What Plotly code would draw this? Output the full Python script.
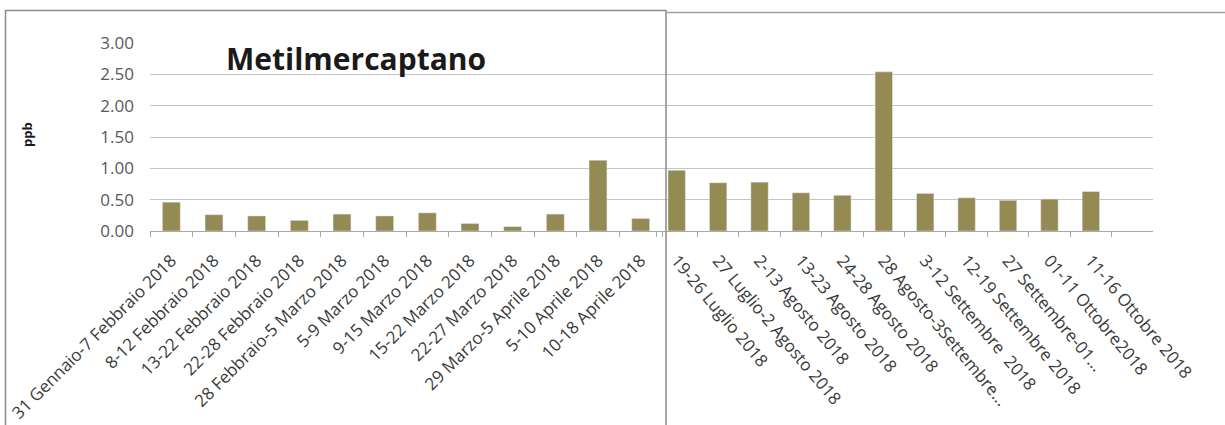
import plotly.graph_objects as go

W, H = 1225, 425

left_labels = [
    "31 Gennaio-7 Febbraio 2018", "8-12 Febbraio 2018", "13-22 Febbraio 2018",
    "22-28 Febbraio 2018", "28 Febbraio-5 Marzo 2018", "5-9 Marzo 2018",
    "9-15 Marzo 2018", "15-22 Marzo 2018", "22-27 Marzo 2018",
    "29 Marzo-5 Aprile 2018", "5-10 Aprile 2018", "10-18 Aprile 2018",
]
left_values = [0.46, 0.26, 0.24, 0.17, 0.27, 0.24, 0.29, 0.12, 0.07, 0.27, 1.13, 0.20]

right_labels = [
    "19-26 Luglio 2018", "27 Luglio-2 Agosto 2018", "2-13 Agosto 2018",
    "13-23 Agosto 2018", "24-28 Agosto 2018", "28 Agosto-3Settembre...",
    "3-12 Settembre  2018", "12-19 Settembre 2018", "27 Settembre-01...",
    "01-11 Ottobre2018", "11-16 Ottobre 2018",
]
right_values = [0.97, 0.77, 0.78, 0.61, 0.57, 2.54, 0.60, 0.53, 0.49, 0.51, 0.63]

y_ticks = [0, 0.5, 1.0, 1.5, 2.0, 2.5, 3.0]
y_ticktext = ["0.00", "0.50", "1.00", "1.50", "2.00", "2.50", "3.00"]

BAR = "#948A54"
GRID = "#C4C4C4"
AXIS = "#A8A8A8"
TXT = "#595959"
LBL = "#3A3A3A"
FONT = "Open Sans"


def px(x):
    return x / W


def py(y):
    return 1 - y / H


fig = go.Figure()
fig.add_trace(go.Bar(x=left_labels, y=left_values, marker_color=BAR, width=0.42,
                     xaxis="x", yaxis="y", showlegend=False))
fig.add_trace(go.Bar(x=right_labels, y=right_values, marker_color=BAR, width=0.42,
                     xaxis="x2", yaxis="y2", showlegend=False))

ydom = [py(231), py(43)]
common_x = dict(
    type="category", tickson="boundaries", ticks="outside", ticklen=5,
    tickcolor=AXIS, showline=True, linecolor=AXIS, linewidth=1,
    showgrid=False, automargin=False, ticklabelstandoff=12,
    tickfont=dict(family=FONT, size=17, color=LBL),
    range=[-0.5, 11.5],
)
fig.update_layout(
    width=W, height=H,
    margin=dict(l=0, r=0, t=0, b=0),
    paper_bgcolor="white", plot_bgcolor="white",
    xaxis=dict(domain=[px(150), px(662)], tickangle=-45,
               categoryorder="array", categoryarray=left_labels, **common_x),
    xaxis2=dict(domain=[px(656), px(1153)], tickangle=50,
                categoryorder="array", categoryarray=right_labels, anchor="y2",
                **common_x),
    yaxis=dict(domain=ydom, range=[0, 3], tickvals=y_ticks, ticktext=y_ticktext,
               showgrid=True, gridcolor=GRID, gridwidth=1, zeroline=False,
               showline=False, ticks="", ticklabelstandoff=15, automargin=False,
               tickfont=dict(family=FONT, size=17, color=TXT), anchor="x"),
    yaxis2=dict(domain=ydom, range=[0, 3], tickvals=y_ticks, showticklabels=False,
                showgrid=True, gridcolor=GRID, gridwidth=1, zeroline=False,
                showline=False, ticks="", automargin=False, anchor="x2"),
    font=dict(family=FONT, color=TXT),
)

# left chart frame
fig.add_shape(type="rect", xref="paper", yref="paper",
              x0=px(5.5), x1=px(666), y0=py(440), y1=py(10.5),
              line=dict(color="#8C8C8C", width=1.5), fillcolor="rgba(0,0,0,0)",
              layer="above")
# right chart frame top
fig.add_shape(type="line", xref="paper", yref="paper",
              x0=px(666), x1=px(1230), y0=py(12.5), y1=py(12.5),
              line=dict(color="#A0A0A0", width=1.5))

fig.add_annotation(text="<b>Metilmercaptano</b>", xref="paper", yref="paper",
                   x=px(224), y=py(59), xanchor="left", yanchor="middle",
                   showarrow=False, font=dict(family=FONT, size=30, color="#1A1A1A"))
fig.add_annotation(text="<b>ppb</b>", xref="paper", yref="paper",
                   x=px(27), y=py(135), xanchor="center", yanchor="middle",
                   textangle=-90, showarrow=False,
                   font=dict(family=FONT, size=13, color="#1A1A1A"))

fig.write_html(
    "out.html",
    config={"displayModeBar": False},
    post_script="document.body.style.margin='0';document.body.style.overflow='hidden';",
)
